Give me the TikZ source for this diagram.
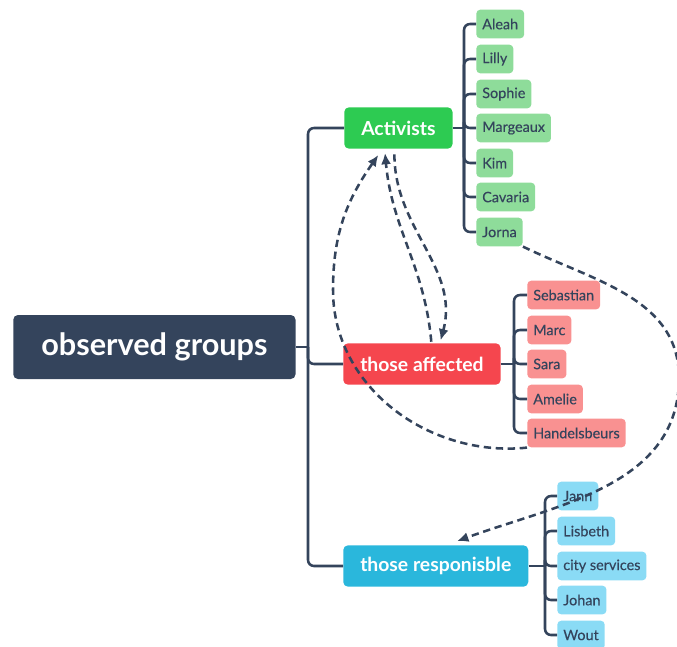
\documentclass[tikz,border=0pt]{standalone}
\usepackage{fontspec}
\setmainfont{Lato}
\newfontfamily\leaffont[FakeBold=0.3]{Lato}
\usetikzlibrary{arrows.meta}
\definecolor{navy}{HTML}{34445C}
\definecolor{gmain}{HTML}{2DCB52}
\definecolor{glight}{HTML}{8EDC9A}
\definecolor{rmain}{HTML}{F5464E}
\definecolor{rlight}{HTML}{F99191}
\definecolor{cmain}{HTML}{2AB7DC}
\definecolor{clight}{HTML}{8ADBF5}
\tikzset{
  rootbox/.style={fill=navy, text=white, rounded corners=3.5pt, minimum height=48pt, inner xsep=21pt, font=\fontsize{23}{26}\selectfont\bfseries, anchor=west},
  branchbox/.style={rounded corners=3.5pt, text=white, minimum height=31pt, inner xsep=12.75pt, font=\fontsize{14.5}{16}\selectfont\bfseries, anchor=west},
  leafbox/.style={rounded corners=3pt, text=navy, minimum height=21.5pt, inner xsep=4.5pt, font=\leaffont\fontsize{10.8}{12}\selectfont, anchor=west},
  treeline/.style={draw=navy, line width=1.9pt, rounded corners=4.5pt},
  relarrow/.style={draw=navy, line width=1.9pt, dash pattern=on 5.5pt off 3.5pt, -{Latex[length=8.5pt,width=7.5pt]}}
}
\begin{document}
\begin{tikzpicture}[x=0.75pt,y=-0.75pt]
\useasboundingbox (0,0) rectangle (677,646);
\clip (0,0) rectangle (677,646);
% root and branches
\node[rootbox] (root) at (13,347) {observed groups};
\node[branchbox, fill=gmain] (act) at (344,128) {Activists};
\node[branchbox, fill=rmain] (aff) at (343,364) {those affected};
\node[branchbox, fill=cmain] (res) at (343,566) {those responisble};
% activists leaves
\node[leafbox, fill=glight] (a1) at (476,24) {Aleah};
\node[leafbox, fill=glight] (a2) at (476,59) {Lilly};
\node[leafbox, fill=glight] (a3) at (476,94) {Sophie};
\node[leafbox, fill=glight] (a4) at (476,128) {Margeaux};
\node[leafbox, fill=glight] (a5) at (476,163) {Kim};
\node[leafbox, fill=glight] (a6) at (476,197) {Cavaria};
\node[leafbox, fill=glight] (a7) at (476,232) {Jorna};
% affected leaves
\node[leafbox, fill=rlight] (b1) at (527,295) {Sebastian};
\node[leafbox, fill=rlight] (b2) at (527,330) {Marc};
\node[leafbox, fill=rlight] (b3) at (527,364) {Sara};
\node[leafbox, fill=rlight] (b4) at (527,399) {Amelie};
\node[leafbox, fill=rlight] (b5) at (527,433) {Handelsbeurs};
% responsible leaves
\node[leafbox, fill=clight] (c1) at (557,496) {Jann};
\node[leafbox, fill=clight] (c2) at (557,531) {Lisbeth};
\node[leafbox, fill=clight] (c3) at (557,566) {city services};
\node[leafbox, fill=clight] (c4) at (557,600) {Johan};
\node[leafbox, fill=clight] (c5) at (557,635) {Wout};
% tree connectors
\coordinate (rj) at (308,347);
\draw[treeline] (root.east) -- (rj);
\foreach \n in {act,aff,res} \draw[treeline] (rj) |- (\n.west);
\coordinate (aj) at (464,128);
\draw[treeline] (act.east) -- (aj);
\foreach \n in {a1,a2,a3,a4,a5,a6,a7} \draw[treeline] (aj) |- (\n.west);
\coordinate (bj) at (514,364);
\draw[treeline] (aff.east) -- (bj);
\foreach \n in {b1,b2,b3,b4,b5} \draw[treeline] (bj) |- (\n.west);
\coordinate (cj) at (545,566);
\draw[treeline] (res.east) -- (cj);
\foreach \n in {c1,c2,c3,c4,c5} \draw[treeline] (cj) |- (\n.west);
% relation arrows
\coordinate (farright) at (679,378);
\draw[relarrow] (a7.south east) to[out=-26,in=90] (farright) to[out=-90,in=20] ([xshift=16pt,yshift=3pt]res.north);
\coordinate (leftturn) at (333,290);
\draw[relarrow] (b5.south west) to[out=186,in=-90] (leftturn) to[out=90,in=-125] ([xshift=-15pt,yshift=-4.5pt]act.south);
\draw[relarrow] ([xshift=7pt,yshift=1pt]aff.north) to[out=95,in=-85] ([xshift=-10pt,yshift=-3pt]act.south);
\draw[relarrow] ([xshift=-3pt,yshift=-4pt]act.south) to[out=-90,in=75] ([xshift=14pt,yshift=2pt]aff.north);
\end{tikzpicture}
\end{document}
